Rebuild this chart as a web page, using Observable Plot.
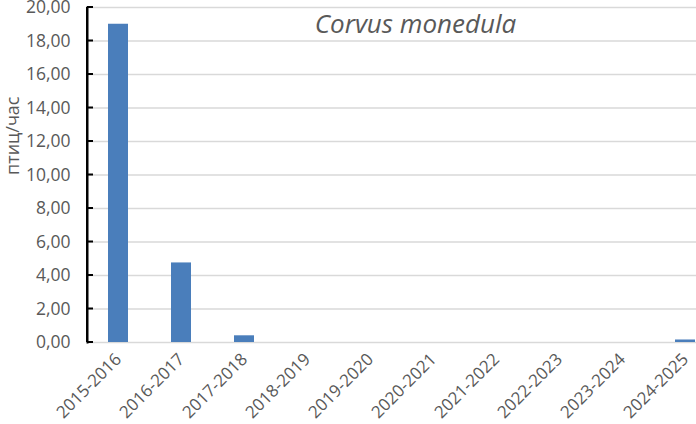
<!DOCTYPE html>
<html>
<head>
<meta charset="utf-8">
<script src="https://cdn.jsdelivr.net/npm/d3@7"></script>
<script src="https://cdn.jsdelivr.net/npm/@observablehq/plot@0.6"></script>
<style>
  html, body { margin: 0; padding: 0; background: #fff; }
  #wrap { width: 696px; height: 424px; overflow: hidden; position: relative; }
  #wrap svg { max-width: none !important; }
</style>
</head>
<body>
<div id="wrap"></div>
<script>
const seasons = ["2015-2016","2016-2017","2017-2018","2018-2019","2019-2020","2020-2021","2021-2022","2022-2023","2023-2024","2024-2025"];
const birdsPerHour = [19.0, 4.75, 0.4, 0, 0, 0, 0, 0, 0, 0.15];
const yTicks = [0, 2, 4, 6, 8, 10, 12, 14, 16, 18, 20];
const title = "Corvus monedula";
const yLabel = "птиц/час";

const data = seasons.map((s, i) => ({season: s, value: birdsPerHour[i]}));
const fmt = d => d.toFixed(2).replace(".", ",");
const font = "'Open Sans', 'Liberation Sans', sans-serif";

const chart = Plot.plot({
  width: 717,
  height: 424,
  marginLeft: 87,
  marginRight: 0,
  marginTop: 7,
  marginBottom: 82,
  style: {fontFamily: font, fontSize: "17px", color: "#595959", background: "#fff", maxWidth: "none"},
  x: {domain: seasons, paddingInner: 0.6825, paddingOuter: 0.341, label: null},
  y: {domain: [0, 20], label: null},
  marks: [
    Plot.gridY(yTicks, {stroke: "#d9d9d9", strokeOpacity: 1, strokeWidth: 1.5}),
    Plot.barY(data, {x: "season", y: "value", fill: "#4a7ebb"}),
    Plot.frame({anchor: "left", stroke: "#000", strokeOpacity: 1, strokeWidth: 2}),
    Plot.axisY(yTicks, {tickSize: 0, tickPadding: 17, tickFormat: fmt, fill: "#595959", fontSize: 17.5, label: null}),
    Plot.axisX({tickSize: 0, tickPadding: 14, tickRotate: -45, fill: "#595959", fontSize: 17, label: null}),
    Plot.text([yLabel], {frameAnchor: "left", rotate: -90, dx: -74, dy: 0, fontSize: 18, fill: "#595959"}),
    Plot.text([title], {frameAnchor: "top", dx: 13, dy: 17, lineAnchor: "middle", fontSize: 26, fontStyle: "italic", fill: "#595959"})
  ]
});
chart.style.maxWidth = "none";

// inward tick marks on the y axis, positioned with the plot's own scales
const xs = chart.scale("x"), ys = chart.scale("y");
const yScale = d3.scaleLinear(ys.domain, ys.range);
const x0 = xs.range[0];
const axisG = d3.select(chart).append("g").attr("stroke", "#000").attr("stroke-width", 2);
axisG.append("line").attr("x1", x0).attr("x2", x0).attr("y1", yScale(20)).attr("y2", yScale(0));
axisG.selectAll("line.tk").data(yTicks).join("line").attr("class", "tk")
  .attr("x1", x0).attr("x2", x0 + 6)
  .attr("y1", d => yScale(d)).attr("y2", d => yScale(d));

document.getElementById("wrap").appendChild(chart);
</script>
</body>
</html>
